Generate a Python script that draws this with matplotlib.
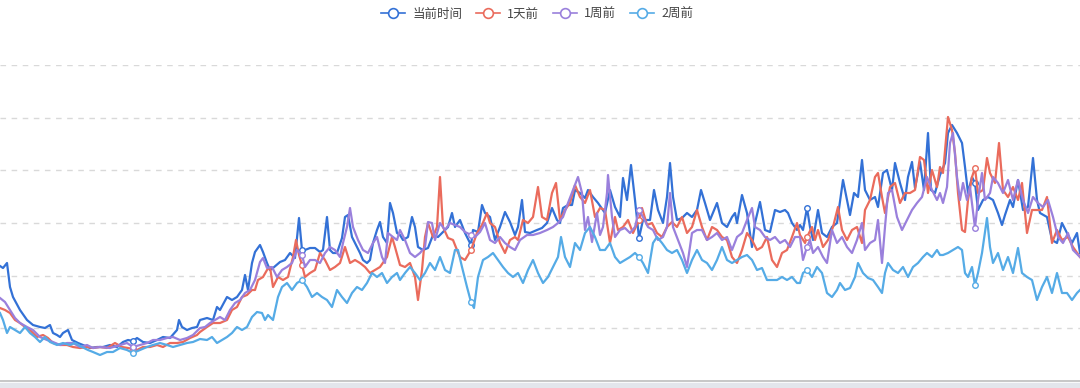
import numpy as np
import matplotlib
matplotlib.use("Agg")
import matplotlib.pyplot as plt
from matplotlib.lines import Line2D
from matplotlib.patches import Rectangle

plt.rcParams['font.family'] = ['Noto Sans CJK SC', 'DejaVu Sans']

labels = ['当前时间', '1天前', '1周前', '2周前']
colors = ['#3371d6', '#ea6b5c', '#9a80dc', '#55abe6']

# (time index, value)
now_pts = [(0,115),(3,113),(7,118),(10,94),(13,84),(20,71),(27,61),(33,56),(40,54),(45,53),(50,56),(53,48),
    (57,46),(60,44),(63,48),(68,51),(72,41),(78,38),(83,36),(90,33),(97,34),(103,34),(110,36),(117,34),(123,39),
    (128,41),(133,40),(137,43),(143,39),(150,38),(157,41),(163,44),(170,43),(177,51),(179,61),(182,54),(187,51),
    (192,53),(197,54),(200,61),(207,63),(213,61),(217,74),(220,71),(227,84),(232,81),(237,84),(242,91),(245,106),
    (248,91),(252,118),(255,129),(260,136),(263,129),(267,118),(270,111),(273,113),(280,119),(285,121),(290,128),
    (295,123),(299,163),(302,131),(305,131),(310,133),(315,133),(320,129),(323,131),(327,164),(330,131),(333,128),
    (337,128),(342,143),(345,164),(348,166),(352,144),(355,138),(360,128),(363,121),(367,118),(370,121),(373,138),
    (377,151),(380,159),(383,144),(387,138),(390,178),(393,168),(397,148),(400,146),(403,141),(408,144),(412,164),
    (415,154),(418,134),(423,131),(428,133),(433,146),(438,144),(443,149),(448,154),(452,168),(455,154),(460,161),
    (465,148),(471,136),(473,151),(478,149),(482,176),(485,168),(490,164),(495,141),(500,154),(505,169),(510,159),
    (515,146),(518,154),(522,181),(525,149),(530,148),(537,151),(542,153),(547,158),(552,173),(557,161),(560,158),
    (563,173),(568,176),(572,176),(575,191),(580,188),(585,183),(588,191),(593,184),(598,178),(605,168),(610,191),
    (615,174),(620,164),(623,203),(627,181),(631,216),(635,181),(639,143),(643,161),(650,161),(654,191),(658,171),
    (663,158),(667,184),(670,218),(673,184),(677,161),(682,163),(687,168),(692,164),(697,171),(701,191),(705,178),
    (710,161),(717,178),(722,158),(727,154),(732,164),(735,168),(737,158),(742,186),(747,168),(752,134),(755,158),
    (760,179),(765,151),(770,149),(775,171),(780,169),(785,171),(788,168),(792,158),(797,151),(800,156),(803,151),
    (807,173),(810,154),(813,141),(818,171),(822,148),(827,144),(832,154),(837,158),(843,201),(847,181),(850,166),
    (854,188),(858,184),(862,221),(865,191),(870,181),(875,184),(878,174),(883,208),(887,211),(892,191),(895,218),
    (900,198),(905,181),(908,204),(912,219),(915,193),(920,219),(924,191),(928,248),(931,191),(935,188),(940,206),
    (945,218),(948,248),(952,256),(957,248),(962,238),(965,214),(968,188),(972,204),(975,198),(978,171),(983,181),
    (988,184),(993,181),(998,168),(1002,156),(1005,166),(1010,181),(1013,174),(1018,201),(1023,171),(1028,174),
    (1033,223),(1037,181),(1040,168),(1047,164),(1052,141),(1057,138),(1062,158),(1067,148),(1072,138),(1077,148),
    (1080,128)]

day_pts = [(0,73),(5,71),(10,68),(15,61),(20,58),(25,54),(30,51),(37,44),(43,46),(48,43),(53,38),(60,36),(67,36),
    (73,34),(80,33),(87,34),(93,33),(100,34),(107,33),(115,38),(122,34),(128,33),(133,32),(137,31),(143,34),
    (150,34),(157,36),(163,34),(170,38),(177,38),(183,39),(190,43),(197,46),(200,49),(207,54),(213,58),(220,58),
    (227,61),(232,71),(237,74),(242,84),(247,86),(252,91),(255,91),(258,101),(263,104),(267,111),(270,114),(273,94),
    (278,104),(283,101),(288,104),(293,124),(296,141),(299,126),(302,116),(305,104),(310,108),(315,111),(320,128),
    (325,121),(330,111),(335,114),(340,118),(345,134),(350,118),(355,121),(360,118),(365,114),(370,108),(375,111),
    (380,114),(387,124),(392,144),(395,134),(400,116),(405,114),(410,118),(415,104),(418,81),(422,111),(425,144),
    (428,158),(433,144),(437,154),(440,204),(443,154),(448,143),(453,141),(457,131),(460,124),(465,121),(468,126),
    (471,131),(477,148),(482,156),(487,168),(490,158),(495,154),(500,138),(505,128),(510,141),(515,144),(518,141),
    (523,161),(528,158),(533,164),(538,194),(542,164),(547,161),(552,188),(556,198),(560,161),(565,171),(570,178),
    (575,196),(580,184),(585,178),(590,191),(595,164),(600,173),(605,171),(610,138),(615,164),(618,151),(623,154),
    (628,161),(633,148),(639,161),(642,173),(647,156),(652,158),(657,148),(662,144),(667,154),(672,159),(677,154),
    (682,164),(687,148),(692,154),(697,171),(702,154),(707,141),(712,154),(717,151),(722,144),(727,141),(732,124),
    (737,118),(742,131),(747,148),(752,141),(757,131),(762,134),(767,144),(772,121),(777,114),(782,128),(787,131),
    (792,144),(797,158),(800,146),(805,138),(807,144),(812,154),(815,141),(818,151),(823,134),(828,141),(833,154),
    (838,174),(842,151),(847,141),(852,151),(857,154),(862,138),(865,171),(870,181),(875,204),(878,208),(882,184),
    (885,168),(890,194),(895,198),(900,178),(905,188),(910,188),(915,191),(920,224),(924,221),(928,188),(932,211),
    (937,194),(940,214),(943,208),(948,264),(952,251),(955,228),(958,188),(962,151),(965,149),(968,181),(972,204),
    (975,213),(978,188),(983,191),(987,223),(990,208),(995,198),(999,238),(1003,191),(1008,184),(1013,194),
    (1018,181),(1022,198),(1027,148),(1032,171),(1037,171),(1042,171),(1047,184),(1052,138),(1057,151),(1062,141),
    (1068,144),(1073,134),(1080,124)]

week_pts = [(0,83),(5,79),(10,71),(15,63),(20,58),(27,54),(33,51),(40,44),(47,41),(53,39),(60,36),(67,38),(73,38),
    (80,34),(87,36),(93,33),(100,34),(110,33),(120,36),(127,38),(133,34),(140,36),(147,38),(153,41),(160,41),
    (167,43),(173,44),(180,41),(187,43),(193,46),(200,53),(205,54),(210,58),(215,61),(220,64),(225,61),(230,71),
    (235,78),(240,81),(245,88),(250,91),(255,101),(260,119),(263,123),(267,113),(272,114),(277,104),(282,111),
    (287,114),(292,118),(297,131),(302,126),(305,114),(310,121),(315,121),(320,118),(325,128),(330,134),(335,131),
    (340,124),(343,138),(347,154),(350,173),(353,154),(358,141),(363,131),(368,128),(373,138),(377,144),(382,124),
    (385,118),(388,148),(393,144),(397,141),(400,151),(405,141),(410,128),(415,124),(420,128),(425,134),(428,159),
    (432,158),(435,141),(440,158),(445,151),(450,158),(455,156),(460,154),(465,149),(471,146),(475,144),(480,149),
    (485,158),(490,141),(495,138),(500,144),(505,138),(510,134),(515,131),(520,141),(527,146),(533,146),(540,148),
    (547,151),(553,154),(558,158),(563,164),(568,178),(573,191),(578,204),(582,188),(585,151),(588,164),(592,139),
    (597,168),(600,146),(603,154),(607,188),(608,206),(612,164),(615,144),(620,151),(625,153),(630,148),(635,154),
    (639,171),(643,164),(648,154),(653,151),(658,141),(663,144),(667,154),(670,188),(673,154),(678,141),(683,128),
    (687,114),(692,148),(697,151),(702,151),(707,141),(712,144),(717,148),(722,141),(727,144),(732,131),(737,144),
    (742,148),(747,161),(752,173),(755,154),(760,151),(765,144),(770,141),(775,144),(780,138),(785,141),(790,134),
    (795,144),(800,144),(803,121),(807,134),(810,141),(813,128),(818,134),(823,124),(827,118),(832,151),(837,138),
    (842,144),(847,134),(852,128),(857,141),(862,158),(865,131),(870,138),(875,141),(878,161),(882,118),(885,154),
    (888,188),(892,191),(897,164),(902,151),(907,161),(912,171),(917,178),(922,184),(927,204),(932,191),(937,181),
    (940,188),(943,178),(947,194),(950,238),(953,248),(957,204),(960,181),(963,198),(967,181),(970,194),(975,153),
    (978,181),(982,208),(985,181),(990,188),(993,204),(998,198),(1003,188),(1008,201),(1013,181),(1018,201),
    (1023,181),(1028,168),(1033,184),(1038,178),(1043,174),(1048,181),(1053,164),(1058,144),(1063,138),(1068,148),
    (1073,131),(1080,124)]

two_week_pts = [(0,68),(3,61),(7,48),(10,54),(15,51),(20,48),(25,54),(30,48),(35,44),(40,39),(45,44),(50,39),
    (57,36),(63,38),(70,36),(75,38),(82,34),(88,31),(93,29),(100,26),(107,29),(113,29),(120,33),(127,31),(133,28),
    (140,31),(147,34),(153,36),(160,38),(167,36),(173,34),(180,36),(187,38),(193,39),(200,42),(207,41),(212,44),
    (217,38),(222,41),(227,44),(232,48),(237,54),(242,51),(247,54),(252,64),(257,69),(262,68),(265,61),(268,66),
    (273,61),(278,84),(282,94),(287,98),(292,91),(297,98),(302,101),(307,94),(312,84),(317,88),(322,84),(327,81),
    (332,74),(337,91),(342,84),(347,78),(352,88),(357,94),(362,91),(367,98),(372,108),(377,104),(382,108),(387,98),
    (392,104),(397,108),(400,101),(405,108),(410,114),(415,108),(420,101),(425,108),(430,118),(435,111),(440,124),
    (445,111),(450,108),(455,131),(458,131),(462,114),(467,94),(471,79),(474,73),(478,104),(483,121),(488,124),
    (493,128),(498,121),(503,114),(508,108),(513,104),(518,108),(523,98),(528,111),(533,121),(538,108),(543,98),
    (548,104),(553,114),(558,124),(561,144),(565,124),(570,114),(575,138),(580,131),(585,148),(590,154),(595,144),
    (600,131),(605,131),(610,138),(615,124),(620,118),(625,121),(630,124),(635,128),(639,124),(643,118),(648,108),
    (653,138),(657,144),(662,138),(667,131),(672,128),(677,131),(682,121),(687,108),(692,121),(697,131),(702,121),
    (707,118),(712,111),(717,121),(722,134),(727,121),(732,118),(737,121),(742,124),(747,126),(752,121),(757,111),
    (762,113),(767,101),(772,101),(777,101),(782,104),(787,101),(792,104),(797,98),(800,98),(803,108),(807,111),
    (812,104),(817,114),(822,108),(827,88),(832,84),(837,91),(840,98),(845,91),(850,93),(855,104),(858,118),
    (863,108),(868,103),(873,101),(878,94),(882,88),(885,108),(888,118),(893,111),(898,108),(903,114),(908,104),
    (913,114),(918,118),(923,124),(927,128),(932,124),(937,131),(940,126),(943,126),(948,128),(953,131),(958,134),
    (962,131),(965,108),(968,104),(972,114),(975,96),(978,108),(982,128),(987,163),(990,134),(993,118),(998,128),
    (1003,111),(1008,124),(1013,108),(1018,133),(1022,108),(1027,104),(1032,101),(1037,81),(1042,94),(1047,104),
    (1052,88),(1057,108),(1062,88),(1067,88),(1072,81),(1077,88),(1080,91)]

marker_times = [133, 302, 471, 639, 807, 975]
y_max = 316

fig = plt.figure(figsize=(10.8, 3.88), dpi=100)
ax = fig.add_axes([0, 7 / 388, 1, 316 / 388])

for pts, col, lab in zip([now_pts, day_pts, week_pts, two_week_pts], colors, labels):
    t, v = map(np.array, zip(*pts))
    idx = list(np.where(np.isin(t, marker_times))[0])
    ax.plot(t, v, color=col, lw=1.6, solid_joinstyle='round', label=lab,
            marker='o', markevery=idx, markersize=4, markerfacecolor='white',
            markeredgecolor=col, markeredgewidth=1)

ax.set_xlim(0, 1080)
ax.set_ylim(0, y_max)
ax.set_yticks(np.linspace(0, y_max, 7)[1:])
ax.set_xticks([])
ax.set_yticklabels([])
ax.tick_params(length=0)
ax.grid(axis='y', color='#d9d9d9', linestyle=(0, (4, 4)), lw=1)
for s in ['top', 'left', 'right']:
    ax.spines[s].set_visible(False)
ax.spines['bottom'].set_color('#bdbdbd')
ax.spines['bottom'].set_linewidth(1.2)

fig.patches.append(Rectangle((0, 0), 1, 5 / 388, transform=fig.transFigure,
                             color='#e3e6ec', zorder=0))

handles = [Line2D([0], [0], color=c, lw=1.2, marker='o', markersize=7,
                  markerfacecolor='white', markeredgecolor=c, markeredgewidth=1.2)
           for c in colors]
fig.legend(handles, labels, loc='center', bbox_to_anchor=(537 / 1080, 1 - 14 / 388),
           ncol=4, frameon=False, fontsize=9, handlelength=1.9, handletextpad=0.6,
           columnspacing=1.1, labelcolor='#444444')

fig.savefig('out.png', dpi=100)
